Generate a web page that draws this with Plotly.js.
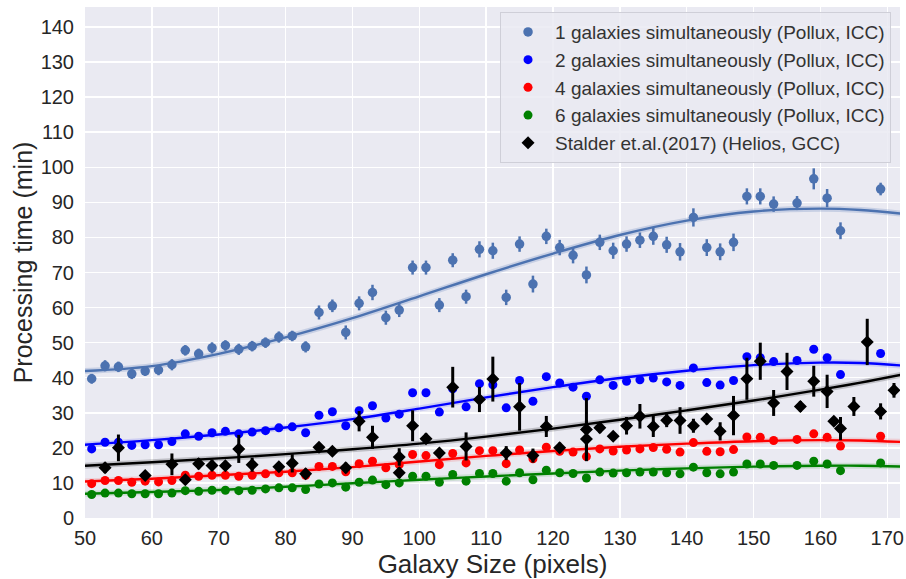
<!DOCTYPE html>
<html>
<head>
<meta charset="utf-8">
<script src="https://cdn.plot.ly/plotly-3.0.1.min.js"></script>
<style>
html,body{margin:0;padding:0;background:#ffffff;}
#chart{width:906px;height:579px;}
</style>
</head>
<body>
<div id="chart"></div>
<script>
// ---------- data ----------
const sizesPollux = [51,53,55,57,59,61,63,65,67,69,71,73,75,77,79,81,83,85,87,89,91,93,95,97,99,101,103,105,107,109,111,113,115,117,119,121,123,125,127,129,131,133,135,137,139,141,143,145,147,149,151,153,156.5,159,161,163,169];

const time1 = [39.7,43.4,43.1,41.1,41.9,42.2,43.7,47.8,46.8,48.5,49.2,48.1,49.0,50.0,51.6,51.9,48.8,58.6,60.5,52.9,61.2,64.3,57.1,59.3,71.4,71.4,60.7,73.5,63.1,76.6,76.2,62.9,78.1,66.7,80.3,77.1,74.9,69.3,78.6,76.2,78.1,79.2,80.3,77.9,75.9,85.7,77.1,75.9,78.6,91.7,91.7,89.5,89.8,96.7,91.2,81.9,93.8];
const err1 = [1.4,1.6,1.5,1.5,1.4,1.5,1.6,1.5,1.5,1.6,1.5,1.6,1.5,1.5,1.6,1.5,1.6,2.0,1.8,2.0,2.0,2.2,2.0,2.0,2.0,2.0,2.0,2.0,2.0,2.3,2.3,2.2,2.2,2.4,2.2,2.2,2.3,2.4,2.2,2.3,2.2,2.2,2.4,2.3,2.5,2.6,2.4,2.4,2.5,2.3,2.3,2.2,2.0,3.0,2.6,2.4,1.8];
const time2 = [19.7,21.6,21.6,20.7,20.9,20.9,21.8,24.0,23.3,24.3,24.7,24.0,24.5,24.9,25.7,26.0,24.3,29.3,30.3,26.3,30.6,32.0,28.5,29.6,35.7,35.7,30.2,36.8,31.7,38.3,38.0,31.4,39.2,33.3,40.3,38.5,37.3,34.7,39.4,37.8,39.0,39.4,39.9,38.8,37.8,42.8,38.6,37.9,39.2,46.0,45.7,44.6,44.9,48.1,45.7,40.9,46.9];
const time4 = [9.8,10.7,10.7,10.2,10.5,10.3,10.7,12.2,11.9,12.2,12.2,11.9,12.2,12.6,12.9,12.9,12.2,14.7,14.7,13.2,15.5,16.2,14.3,15.2,18.1,17.8,15.2,18.4,15.7,19.2,19.2,15.5,19.4,16.9,20.2,19.0,18.8,17.5,19.7,19.1,19.4,19.7,20.1,19.6,18.8,21.5,19.0,18.9,19.5,23.1,23.0,22.1,22.4,24.0,23.0,20.5,23.3];
const time6 = [6.7,7.1,7.1,6.9,6.9,6.9,7.1,7.8,7.6,7.9,7.9,7.8,7.9,8.3,8.6,8.6,8.1,9.7,10.0,8.8,10.2,10.8,9.5,10.0,11.9,11.9,10.2,12.4,10.5,12.7,12.7,10.5,12.9,10.9,13.6,12.9,12.7,11.4,13.1,12.8,12.9,13.1,13.1,12.9,12.6,14.5,12.9,12.6,13.1,15.4,15.4,15.0,15.0,16.2,15.4,13.5,15.7];

const sizesStalder = [53,55,59,63,65,67,69,71,73,75,79,81,83,85,87,89,91,93,97,97,99,101,103,105,107,109,111,113,115,117,119,121,125,125,127,129,131,133,135,137,139,141,143,145,147,149,151,153,155,157,159,161,162,163,165,167,169,171];
const timeStalder = [14.3,20.0,12.1,15.3,10.9,15.5,15.0,14.9,19.7,15.2,14.6,15.6,12.6,20.2,19.0,14.3,27.6,23.0,17.4,12.9,26.3,22.6,18.5,37.3,20.4,33.8,39.6,18.5,31.7,17.8,26.1,20.0,25.2,22.5,25.7,23.3,26.3,29.0,26.1,27.9,27.8,26.3,28.2,24.7,29.2,39.7,44.7,32.8,41.8,31.8,39.0,36.1,27.6,25.5,31.8,50.2,30.4,36.4];
const errStalder = [1.5,3.8,1.2,3.1,1.2,1.6,1.5,1.2,4.0,2.0,1.2,2.6,1.5,1.2,1.2,1.5,2.9,3.3,2.5,1.5,4.4,1.5,1.5,5.8,4.0,3.6,6.4,2.0,6.8,2.0,3.0,1.5,9.0,5.4,1.5,1.2,2.5,3.5,3.0,2.0,3.8,2.0,1.5,2.6,5.6,6.0,5.3,3.7,5.3,1.5,4.4,4.75,1.2,3.3,2.7,6.6,2.3,2.1];

// fitted curves, values at evenly spaced sizes
const fitX = [50,60,70,80,90,100,110,120,130,140,150,160,166,172];
const fitY1 = [41.9,43.3,46.8,51.5,57.0,63.2,69.5,75.4,80.7,84.8,87.4,88.2,87.8,86.8];
const fitY2 = [20.9,22.2,23.8,25.8,28.2,31.2,34.4,37.3,39.9,42.0,43.6,44.3,44.2,43.5];
const fitY4 = [10.4,11.2,12.2,13.2,14.5,16.1,17.7,19.1,20.3,21.2,21.9,22.2,22.1,21.7];
const fitY6 = [6.9,7.4,8.0,8.9,9.9,10.9,11.85,12.7,13.5,14.15,14.65,14.9,14.9,14.7];
const fitYS = [14.9,15.9,17.0,18.2,19.6,21.2,23.2,25.5,28.0,30.7,33.5,36.6,38.6,40.8];

const labels = [
  '1 galaxies simultaneously (Pollux, ICC)',
  '2 galaxies simultaneously (Pollux, ICC)',
  '4 galaxies simultaneously (Pollux, ICC)',
  '6 galaxies simultaneously (Pollux, ICC)',
  'Stalder et.al.(2017) (Helios, GCC)'
];

// ---------- styles ----------
const FONT = '"Liberation Sans", Arial, Helvetica, sans-serif';
const C1 = '#4c72b0', C2 = '#0000ff', C4 = '#ff0000', C6 = '#008000', CS = '#000000';

function scatter(name, x, y, color, opts) {
  const t = {
    type: 'scatter', mode: 'markers', name: name, x: x, y: y,
    marker: {color: color, size: (opts && opts.size) || 9, symbol: (opts && opts.symbol) || 'circle', line: {width: 0}},
    hoverinfo: 'skip'
  };
  if (opts && opts.err) {
    t.error_y = {type: 'data', array: opts.err, visible: true, color: color, thickness: opts.thick || 2.5, width: 0};
  }
  return t;
}
function fitLines(x, y, color, band) {
  return [
    {type: 'scatter', mode: 'lines', x: x, y: y, showlegend: false, hoverinfo: 'skip',
     line: {color: band, width: 6, shape: 'spline', smoothing: 1}},
    {type: 'scatter', mode: 'lines', x: x, y: y, showlegend: false, hoverinfo: 'skip',
     line: {color: color, width: 2.4, shape: 'spline', smoothing: 1}}
  ];
}

const traces = [].concat(
  [scatter(labels[0], sizesPollux, time1, C1, {size: 9.5, err: err1, thick: 2.5})],
  fitLines(fitX, fitY1, C1, 'rgba(76,114,176,0.22)'),
  [scatter(labels[1], sizesPollux, time2, C2, {size: 9})],
  fitLines(fitX, fitY2, C2, 'rgba(0,0,255,0.12)'),
  [scatter(labels[2], sizesPollux, time4, C4, {size: 9})],
  fitLines(fitX, fitY4, C4, 'rgba(255,0,0,0.12)'),
  [scatter(labels[3], sizesPollux, time6, C6, {size: 9})],
  fitLines(fitX, fitY6, C6, 'rgba(0,128,0,0.12)'),
  [scatter(labels[4], sizesStalder, timeStalder, CS, {size: 10, symbol: 'diamond', err: errStalder, thick: 3})],
  fitLines(fitX, fitYS, CS, 'rgba(0,0,0,0.18)')
);

const axisCommon = {
  showgrid: true, gridcolor: '#ffffff', gridwidth: 1.5,
  zeroline: false, showline: false, ticks: '',
  tickfont: {family: FONT, size: 20, color: '#262626'}
};

const layout = {
  width: 906, height: 579,
  margin: {l: 85, r: 6, t: 7, b: 61, pad: 0},
  paper_bgcolor: '#ffffff', plot_bgcolor: '#eaeaf2',
  font: {family: FONT, color: '#262626'},
  showlegend: true,
  xaxis: Object.assign({}, axisCommon, {
    range: [50, 171.9], tick0: 50, dtick: 10, ticklabelstandoff: 6,
    title: {text: 'Galaxy Size (pixels)', font: {family: FONT, size: 26, color: '#262626'}, standoff: 3}
  }),
  yaxis: Object.assign({}, axisCommon, {
    range: [0, 145.7], tick0: 0, dtick: 10, ticklabelstandoff: 10,
    title: {text: 'Processing time (min)', font: {family: FONT, size: 25, color: '#262626'}, standoff: 0}
  }),
  legend: {
    x: 0.989, xanchor: 'right', y: 0.99, yanchor: 'top',
    bgcolor: 'rgba(234,234,242,0.85)', bordercolor: '#cfcfd8', borderwidth: 1,
    font: {family: FONT, size: 19, color: '#333333'},
    itemwidth: 44, tracegroupgap: 0
  }
};

Plotly.newPlot('chart', traces, layout, {displayModeBar: false, staticPlot: true});
</script>
</body>
</html>
